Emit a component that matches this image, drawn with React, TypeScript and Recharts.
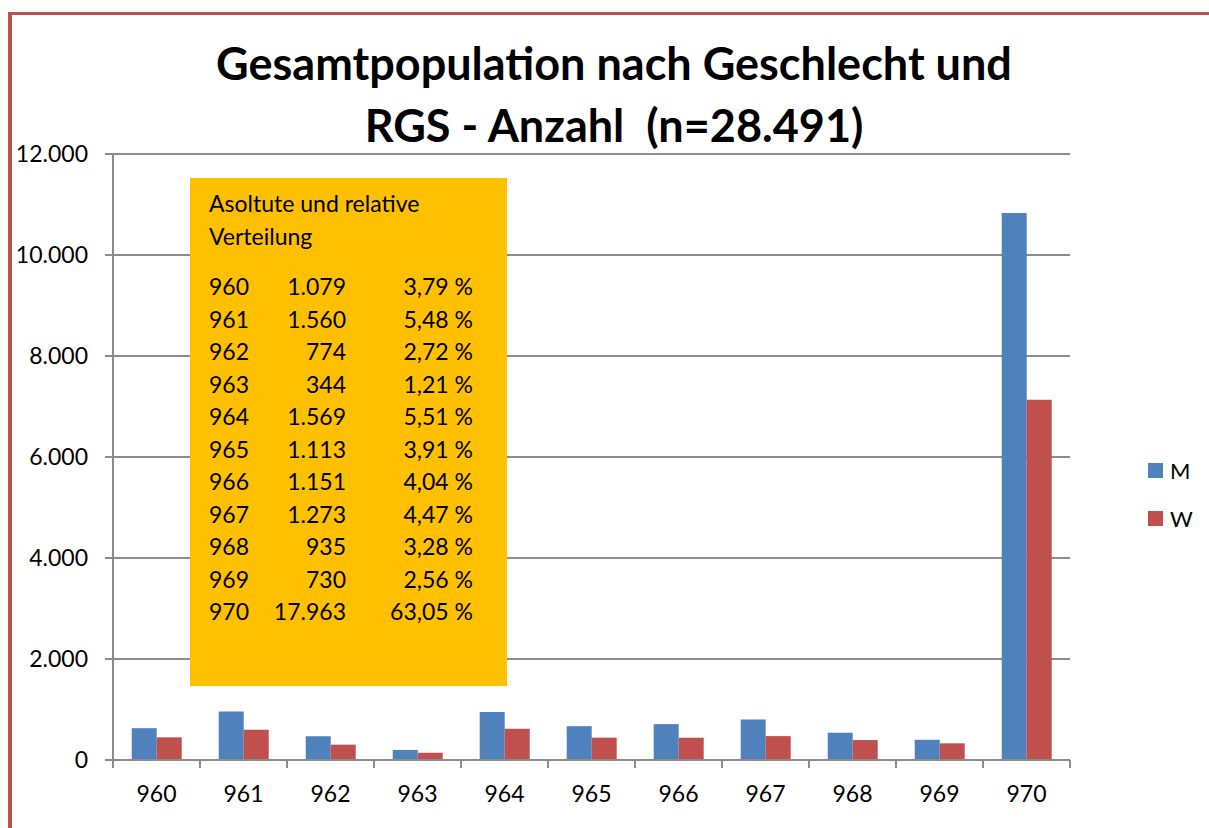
import React from "react";
import { BarChart, Bar, XAxis, YAxis, CartesianGrid } from "recharts";

const CATEGORIES = ["960", "961", "962", "963", "964", "965", "966", "967", "968", "969", "970"];
const MALE = [630, 960, 470, 200, 950, 670, 710, 800, 540, 400, 10830];
const FEMALE = [449, 600, 304, 144, 619, 443, 441, 473, 395, 330, 7133];
const TOTAL_LABELS = ["1.079", "1.560", "774", "344", "1.569", "1.113", "1.151", "1.273", "935", "730", "17.963"];
const SHARE_LABELS = ["3,79 %", "5,48 %", "2,72 %", "1,21 %", "5,51 %", "3,91 %", "4,04 %", "4,47 %", "3,28 %", "2,56 %", "63,05 %"];
const Y_TICKS = [0, 2000, 4000, 6000, 8000, 10000, 12000];

const SERIES = [
  { key: "M", color: "#4F81BD" },
  { key: "W", color: "#C0504D" },
];

const data = CATEGORIES.map((c, i) => ({ rgs: c, M: MALE[i], W: FEMALE[i] }));

const FONT = "Lato, 'Open Sans', sans-serif";
const AXIS = "#8C8C8C";
const PLOT_LEFT = 113;
const PLOT_RIGHT = 1070;
const AXIS_Y = 760;
const TICK = 8;

const fmt = (v: number) => String(v).replace(/\B(?=(\d{3})+(?!\d))/g, ".");

// category label plus the boundary tick marks Excel draws between groups
const CategoryTick = (props: any) => {
  const { x, payload, index } = props;
  const step = (PLOT_RIGHT - PLOT_LEFT) / CATEGORIES.length;
  const last = index === CATEGORIES.length - 1;
  return (
    <g>
      <line x1={x - step / 2} x2={x - step / 2} y1={AXIS_Y} y2={AXIS_Y + TICK} stroke={AXIS} strokeWidth={2} />
      {last && (
        <line x1={x + step / 2} x2={x + step / 2} y1={AXIS_Y} y2={AXIS_Y + TICK} stroke={AXIS} strokeWidth={2} />
      )}
      <text x={x} y={AXIS_Y + 26} dy="0.71em" textAnchor="middle" fill="#000" fontSize={23} fontFamily={FONT}>
        {payload.value}
      </text>
    </g>
  );
};

export default function App() {
  return (
    <div style={{ position: "relative", width: 1209, height: 828, overflow: "hidden", background: "#fff" }}>
      <style>{"body{margin:0;overflow:hidden}"}</style>
      <div
        style={{
          position: "absolute",
          left: 8,
          top: 12,
          width: 1400,
          height: 1000,
          borderTop: "3px solid #C0504D",
          borderLeft: "4px solid #C0504D",
        }}
      />
      <div
        style={{
          position: "absolute",
          left: 19,
          top: 32,
          width: 1190,
          textAlign: "center",
          fontFamily: FONT,
          fontWeight: 700,
          fontSize: 45,
          lineHeight: "62px",
          whiteSpace: "pre",
          color: "#000",
        }}
      >
        {"Gesamtpopulation nach Geschlecht und\nRGS - Anzahl  (n=28.491)"}
      </div>

      <div style={{ position: "absolute", left: 0, top: 0 }}>
        <BarChart
          width={1209}
          height={828}
          data={data}
          margin={{ top: 154, right: 139, bottom: 8, left: 0 }}
          barCategoryGap="21.5%"
          barGap={0}
        >
          <CartesianGrid vertical={false} stroke={AXIS} strokeWidth={2} />
          <XAxis
            dataKey="rgs"
            height={60}
            axisLine={{ stroke: AXIS, strokeWidth: 2 }}
            tickLine={false}
            tick={<CategoryTick />}
            interval={0}
          />
          <YAxis
            width={113}
            domain={[0, 12000]}
            ticks={Y_TICKS}
            tickFormatter={fmt}
            axisLine={{ stroke: AXIS, strokeWidth: 2 }}
            tickLine={{ stroke: AXIS, strokeWidth: 2 }}
            tickSize={TICK}
            tickMargin={17}
            tick={{ fontSize: 23, fill: "#000", fontFamily: FONT }}
          />
          {SERIES.map((s) => (
            <Bar key={s.key} dataKey={s.key} fill={s.color} isAnimationActive={false} />
          ))}
        </BarChart>
      </div>

      <div
        style={{
          position: "absolute",
          left: 190,
          top: 178,
          width: 317,
          height: 508,
          background: "#FFC000",
          fontFamily: FONT,
          fontSize: 23,
          color: "#000",
        }}
      >
        <div style={{ position: "absolute", left: 19, top: 9, lineHeight: "33px", whiteSpace: "nowrap" }}>
          Asoltute und relative
          <br />
          Verteilung
        </div>
        <div style={{ position: "absolute", left: 19, top: 92, lineHeight: "32.5px" }}>
          {CATEGORIES.map((c, i) => (
            <div key={c} style={{ whiteSpace: "nowrap" }}>
              <span style={{ display: "inline-block", width: 60 }}>{c}</span>
              <span style={{ display: "inline-block", width: 77, textAlign: "right" }}>{TOTAL_LABELS[i]}</span>
              <span style={{ display: "inline-block", width: 127, textAlign: "right" }}>{SHARE_LABELS[i]}</span>
            </div>
          ))}
        </div>
      </div>

      <div style={{ position: "absolute", left: 1148, top: 455, fontFamily: FONT, fontSize: 22, color: "#000" }}>
        {SERIES.map((s) => (
          <div key={s.key} style={{ display: "flex", alignItems: "center", height: 30, marginBottom: 18 }}>
            <span style={{ display: "inline-block", width: 15, height: 15, background: s.color, marginRight: 7 }} />
            {s.key}
          </div>
        ))}
      </div>
    </div>
  );
}
